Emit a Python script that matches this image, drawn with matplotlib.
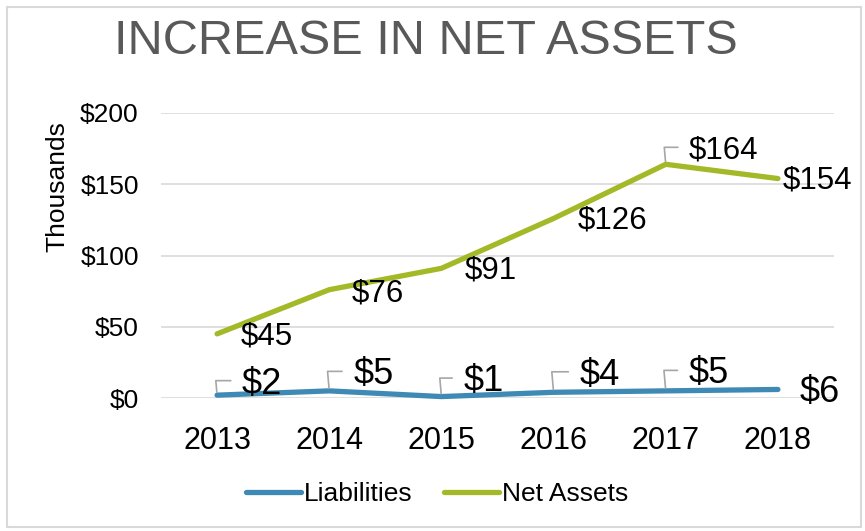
import matplotlib
matplotlib.use('Agg')
import matplotlib.pyplot as plt
from matplotlib.patches import Rectangle

plt.rcParams['font.family'] = ['Liberation Sans', 'DejaVu Sans']

years = ['2013', '2014', '2015', '2016', '2017', '2018']
liabilities = [2, 5, 1, 4, 5, 6]
net_assets = [45, 76, 91, 126, 164, 154]

blue = '#3F8AB5'
green = '#A4B927'
grey_line = '#A6A6A6'

# label offsets from the point, in pixels (dx right, dy up)
liab_off = [(45, 11), (44, 16), (42, 15), (46, 17), (43, 17), (42, -3)]
liab_leader = [True, True, True, True, True, False]
net_off = [(50, -3), (49, -4), (49, -2), (59, -2), (58, 14), (40, -2)]
net_leader = [False, False, False, False, True, False]

fig = plt.figure(figsize=(8.65, 5.31), dpi=100)
ax = fig.add_axes([161/865, 1-398/531, 673/865, 285/531])

x = list(range(len(years)))
ax.plot(x, liabilities, color=blue, lw=3.8, solid_capstyle='round', clip_on=False, label='Liabilities', zorder=3)
ax.plot(x, net_assets, color=green, lw=3.8, solid_capstyle='round', clip_on=False, label='Net Assets', zorder=3)

ax.set_xlim(-0.5, len(years)-0.5)
ax.set_ylim(0, 200)
ax.set_yticks([0, 50, 100, 150, 200])
ax.set_yticklabels(['$%d' % v for v in [0, 50, 100, 150, 200]])
ax.set_xticks(x)
ax.set_xticklabels(years)
ax.tick_params(axis='y', length=0, labelsize=19, pad=16)
ax.tick_params(axis='x', length=0, labelsize=22, pad=20)
ax.grid(axis='y', color='#D9D9D9', lw=1.2)
ax.set_axisbelow(True)
for s in ax.spines.values():
    s.set_visible(False)


def add_labels(vals, offs, leaders, size):
    for i, v in enumerate(vals):
        dx, dy = offs[i]
        kw = {}
        if leaders[i]:
            kw['arrowprops'] = dict(arrowstyle='-', color=grey_line, lw=1.2,
                                    connectionstyle='angle,angleA=0,angleB=95,rad=0',
                                    shrinkA=6, shrinkB=2, relpos=(0, 0.6))
        ax.annotate('$%d' % v, xy=(i, v), xytext=(dx*0.72, dy*0.72),
                    textcoords='offset points', ha='center', va='center',
                    fontsize=size, color='black', zorder=4, **kw)


add_labels(liabilities, liab_off, liab_leader, 26)
add_labels(net_assets, net_off, net_leader, 22.5)

fig.text(57/865, 1-187/531, 'Thousands', rotation=90, ha='center', va='center', fontsize=19)

fig.text(426/865, 1-42/531, 'INCREASE IN NET ASSETS', ha='center', va='center',
         fontsize=35, color='#595959')

fig.legend(loc='center', bbox_to_anchor=(437/865, 1-494/531), ncol=2, frameon=False,
           fontsize=19, handlelength=2.1, handletextpad=0.1, columnspacing=1.2)

fig.patches.append(Rectangle((7/865, 4/531), 854/865, 520/531, transform=fig.transFigure,
                             fill=False, edgecolor='#D9D9D9', lw=1.5))

fig.savefig('out.png', dpi=100)
